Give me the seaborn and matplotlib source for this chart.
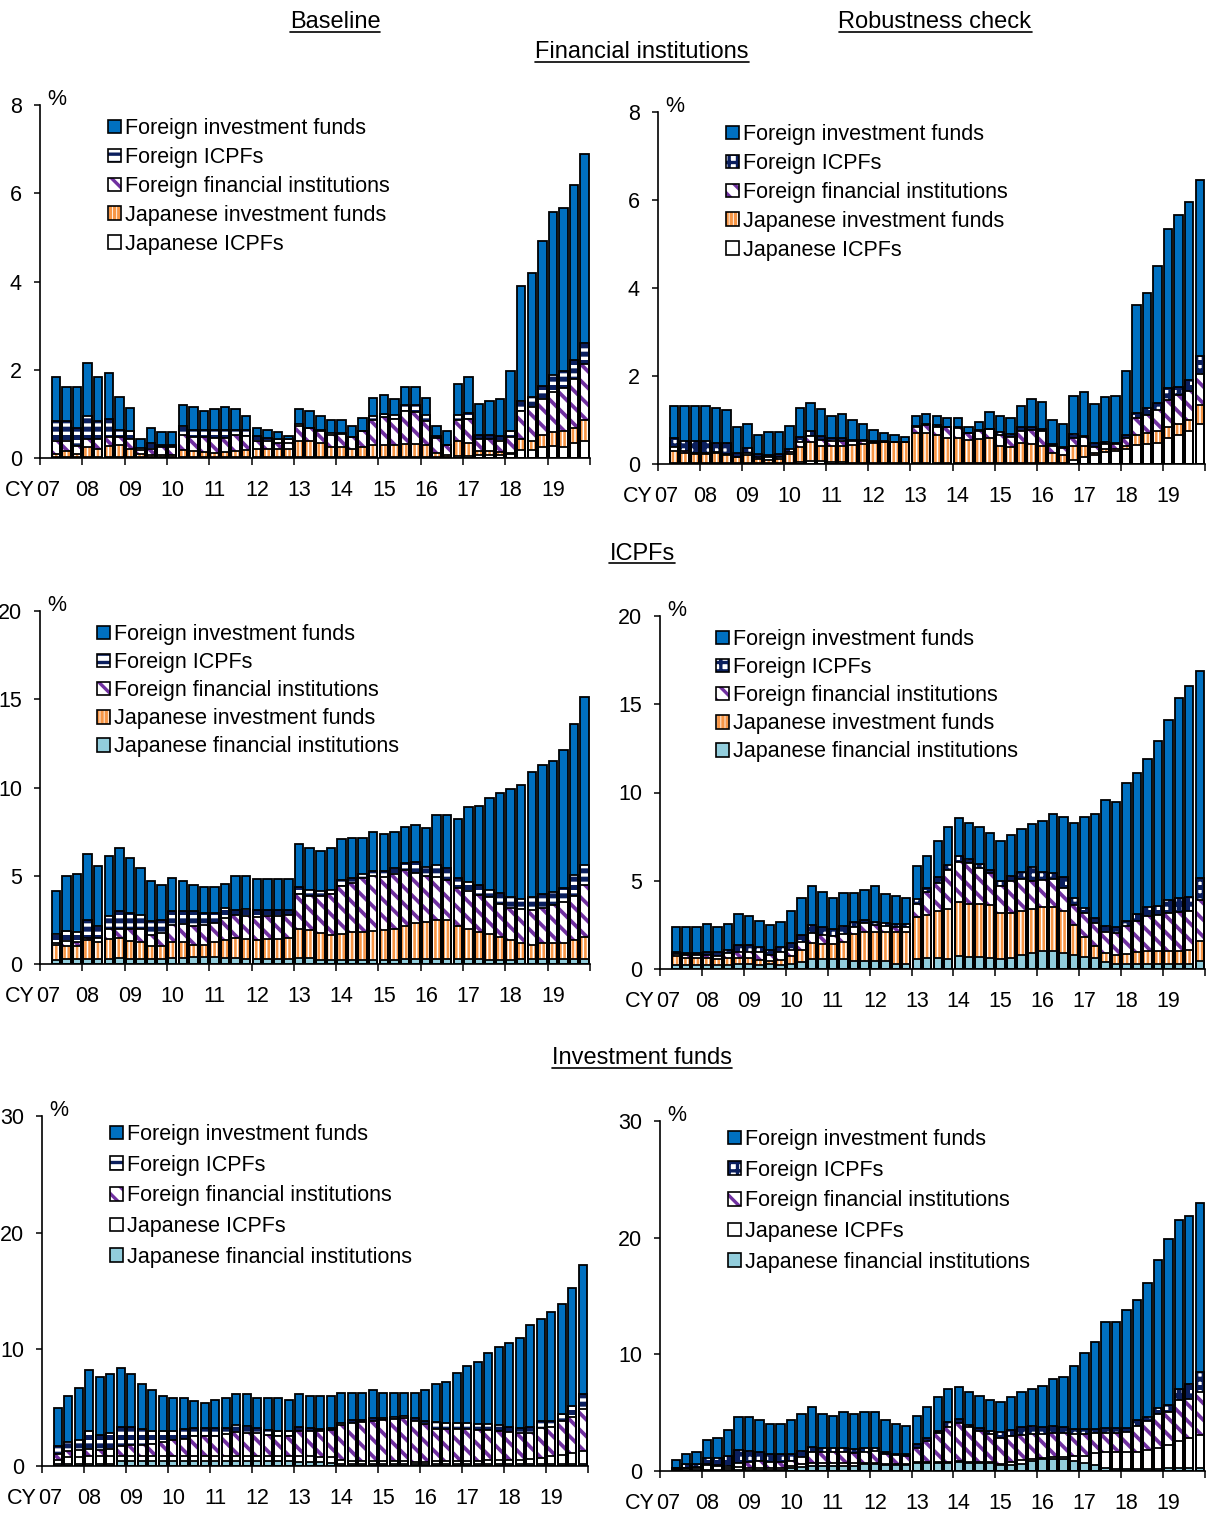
import numpy as np
import pandas as pd
import seaborn as sns
import matplotlib
matplotlib.use("Agg")
import matplotlib.pyplot as plt
from matplotlib.patches import Patch
from matplotlib.lines import Line2D
from matplotlib.legend_handler import HandlerTuple

# ---------------------------------------------------------------- data
# quarters 2007Q2 .. 2019Q4 ; values are cumulative stack tops (%)
quarters = pd.period_range("2007Q2", "2019Q4", freq="Q")
year_labels = ["07", "08", "09", "10", "11", "12", "13", "14", "15", "16", "17", "18", "19"]

# Financial institutions - Baseline (bottom -> top)
fi_base_jp_icpf = [.03,.03,.02,.03,.03,.03,.03,.03,.02,.02,.02,.02,.03,.03,.03,.03,.03,.03,.03,.03,.03,.03,.03,.03,.03,.03,.03,.03,.03,.03,.03,.03,.03,.03,.03,.03,.02,.02,.04,.05,.06,.06,.07,.08,.17,.19,.24,.27,.26,.34,.39]
fi_base_jp_if = [.10,.15,.09,.24,.21,.27,.30,.21,.08,.07,.06,.06,.17,.15,.14,.12,.14,.15,.17,.21,.21,.21,.21,.39,.38,.33,.24,.26,.21,.24,.29,.29,.29,.32,.32,.29,.11,.06,.38,.34,.15,.15,.14,.11,.44,.39,.53,.59,.62,.67,.87]
fi_base_for_fi = [.39,.38,.27,.44,.42,.47,.47,.42,.17,.21,.24,.24,.52,.47,.47,.45,.45,.52,.49,.39,.38,.34,.34,.72,.67,.61,.53,.55,.47,.62,.87,.94,.89,1.06,1.05,.83,.45,.29,.87,.89,.44,.42,.39,.47,1.06,1.15,1.33,1.5,1.59,1.78,2.14]
fi_base_for_icpf = [.83,.83,.68,.95,.83,.89,.64,.61,.23,.34,.30,.30,.72,.64,.64,.64,.64,.64,.64,.49,.45,.42,.42,.77,.68,.64,.57,.57,.47,.62,.95,1.0,.98,1.2,1.2,.97,.49,.30,.97,1.02,.53,.52,.49,.62,1.29,1.38,1.63,1.89,1.97,2.21,2.61]
fi_base_for_if = [1.84,1.61,1.61,2.16,1.84,1.93,1.38,1.14,.44,.68,.58,.58,1.2,1.15,1.06,1.1,1.15,1.1,.95,.68,.64,.59,.49,1.1,1.06,.95,.86,.86,.72,.91,1.36,1.42,1.33,1.61,1.61,1.36,.72,.62,1.67,1.84,1.23,1.29,1.33,1.98,3.9,4.2,4.92,5.58,5.67,6.18,6.88]

# Financial institutions - Robustness check
fi_rob_jp_icpf = [.03,.03,.02,.02,.02,.02,.02,.02,.02,.02,.02,.03,.05,.06,.06,.05,.05,.03,.03,.02,.02,.02,.02,.03,.03,.03,.03,.03,.03,.03,.03,.03,.03,.03,.03,.03,.03,.03,.1,.15,.2,.27,.3,.35,.44,.45,.48,.58,.67,.76,.92]
fi_rob_jp_if = [.30,.26,.23,.23,.24,.20,.15,.20,.12,.10,.12,.22,.39,.50,.40,.40,.40,.43,.45,.48,.49,.49,.49,.71,.70,.65,.60,.60,.55,.56,.60,.42,.38,.47,.45,.40,.25,.20,.40,.40,.25,.35,.34,.42,.65,.70,.74,.83,.90,1.0,1.33]
fi_rob_for_fi = [.39,.30,.25,.25,.28,.23,.17,.24,.17,.15,.17,.28,.51,.64,.55,.52,.53,.52,.52,.51,.51,.50,.50,.85,.88,.85,.83,.82,.71,.75,.79,.65,.62,.76,.77,.75,.40,.36,.60,.62,.38,.46,.46,.60,1.05,1.12,1.22,1.45,1.56,1.67,2.05]
fi_rob_for_icpf = [.58,.53,.53,.53,.48,.48,.26,.36,.23,.20,.23,.33,.61,.74,.64,.58,.58,.55,.55,.53,.52,.50,.50,.86,.90,.88,.85,.85,.71,.77,.79,.73,.68,.83,.83,.79,.45,.39,.68,.64,.47,.50,.48,.66,1.15,1.28,1.39,1.72,1.74,1.92,2.45]
fi_rob_for_if = [1.32,1.32,1.32,1.32,1.28,1.23,.85,.91,.67,.73,.73,.86,1.27,1.38,1.24,1.09,1.14,1.0,.91,.77,.71,.66,.62,1.09,1.14,1.09,1.05,1.05,.85,.95,1.18,1.09,1.05,1.32,1.47,1.42,1.0,.91,1.55,1.64,1.36,1.52,1.55,2.12,3.62,3.88,4.5,5.33,5.67,5.95,6.45]

# ICPFs - Baseline
icpf_base_jp_fi = [.25,.3,.3,.3,.3,.3,.35,.3,.3,.3,.3,.35,.35,.4,.4,.4,.35,.35,.3,.3,.3,.3,.3,.35,.35,.25,.25,.25,.25,.2,.2,.2,.2,.3,.3,.3,.3,.3,.3,.3,.3,.2,.2,.25,.3,.3,.3,.3,.3,.3,.3]
icpf_base_jp_if = [1.05,1.04,1.03,1.36,1.25,1.42,1.45,1.32,1.25,1.0,1.0,1.23,1.23,1.05,1.05,1.25,1.35,1.45,1.4,1.38,1.42,1.42,1.45,2.0,1.9,1.75,1.65,1.7,1.8,1.8,1.85,1.9,2.0,2.15,2.3,2.4,2.5,2.5,2.15,2.0,1.8,1.7,1.55,1.35,1.2,1.1,1.2,1.2,1.2,1.35,1.55]
icpf_base_for_fi = [1.2,1.28,1.25,1.47,1.45,1.98,1.97,2.0,1.98,1.65,1.75,2.2,2.25,2.15,2.2,2.3,2.6,2.75,2.7,2.65,2.7,2.7,2.75,3.95,3.85,3.85,3.95,4.4,4.6,4.85,5.0,4.95,5.1,5.3,5.15,5.0,4.95,4.75,4.3,4.15,3.9,3.8,3.4,3.2,3.1,3.05,3.2,3.35,3.5,3.85,4.5]
icpf_base_for_icpf = [1.72,1.89,1.8,2.5,2.17,2.74,2.98,2.91,2.8,2.42,2.5,2.98,2.98,2.98,2.9,2.9,3.2,3.06,3.1,3.06,3.06,3.06,3.06,4.38,4.19,4.12,4.19,4.76,4.87,5.1,5.29,5.29,5.44,5.7,5.76,5.5,5.6,5.44,4.87,4.62,4.47,4.19,4.0,3.78,3.68,3.78,3.97,4.06,4.3,5.06,5.63]
icpf_base_for_if = [4.13,4.98,5.08,6.23,5.55,6.13,6.58,6.02,5.42,4.7,4.47,4.85,4.72,4.49,4.38,4.38,4.51,4.98,4.98,4.83,4.83,4.83,4.83,6.79,6.55,6.42,6.55,7.06,7.15,7.15,7.5,7.36,7.47,7.74,7.85,7.72,8.42,8.42,8.19,8.87,8.98,9.43,9.7,9.9,10.13,10.85,11.3,11.5,12.1,13.6,15.1]

# ICPFs - Robustness check
icpf_rob_jp_fi = [.2,.2,.2,.2,.2,.2,.3,.3,.2,.3,.2,.3,.4,.55,.55,.55,.55,.45,.45,.45,.45,.3,.3,.55,.65,.65,.55,.76,.7,.7,.65,.55,.65,.8,.9,1.0,1.0,.9,.8,.7,.6,.4,.3,.3,.3,.3,.3,.3,.3,.3,.45]
icpf_rob_jp_if = [.72,.65,.62,.62,.55,.65,.6,.6,.5,.45,.5,.75,1.05,1.45,1.4,1.4,1.55,2.0,2.1,2.1,2.1,2.1,2.1,2.95,3.05,3.3,3.4,3.78,3.7,3.7,3.6,3.2,3.2,3.3,3.4,3.5,3.5,3.3,2.5,1.8,1.3,.9,.8,.85,.95,1.0,1.0,1.0,1.0,1.1,1.6]
icpf_rob_for_fi = [.83,.8,.8,.82,.75,.9,.98,.98,.95,.82,.95,1.1,1.55,2.05,1.95,1.85,2.0,2.4,2.6,2.5,2.45,2.4,2.4,3.7,4.35,4.9,5.6,6.08,6.0,5.7,5.45,4.72,5.0,5.1,5.0,5.05,5.1,4.6,3.65,3.15,2.6,2.1,2.05,2.45,2.7,3.0,3.05,3.2,3.25,3.3,3.9]
icpf_rob_for_icpf = [.98,.89,.89,.98,.94,1.1,1.36,1.36,1.23,1.1,1.23,1.47,1.93,2.49,2.36,2.27,2.42,2.68,2.8,2.68,2.6,2.55,2.55,3.97,4.57,5.19,5.89,6.4,6.25,5.95,5.6,5.0,5.29,5.51,5.76,5.51,5.44,5.19,4.0,3.44,2.87,2.46,2.36,2.74,3.12,3.49,3.55,3.93,4.0,4.06,5.14]
icpf_rob_for_if = [2.4,2.4,2.4,2.55,2.4,2.55,3.12,3.0,2.74,2.51,2.67,3.31,4.03,4.7,4.37,4.03,4.29,4.29,4.5,4.73,4.25,4.14,4.03,5.86,6.43,7.28,8.07,8.53,8.3,8.07,7.71,7.28,7.6,7.94,8.19,8.41,8.77,8.64,8.3,8.64,8.77,9.58,9.45,10.53,11.1,11.89,12.91,14.08,15.35,16.03,16.86]

# Investment funds - Baseline
if_base_jp_fi = [.15,.15,.15,.15,.15,.15,.45,.45,.4,.4,.4,.45,.45,.45,.45,.45,.45,.45,.45,.45,.45,.45,.45,.35,.35,.35,.3,.2,.15,.15,.15,.15,.15,.15,.15,.15,.2,.2,.2,.2,.15,.15,.15,.15,.15,.15,.15,.15,.15,.15,.15]
if_base_jp_icpf = [.5,.77,.8,.85,.85,.9,.9,.9,.9,.9,.9,.9,.9,.9,.9,.9,.9,.9,.9,.9,.9,.9,.9,.85,.85,.8,.8,.5,.45,.45,.4,.4,.4,.4,.35,.35,.4,.4,.4,.45,.45,.5,.5,.55,.55,.6,.7,.85,.95,1.1,1.3]
if_base_for_fi = [1.06,1.29,1.35,1.43,1.4,1.5,1.7,1.8,1.8,1.9,2.1,2.2,2.35,2.55,2.6,2.6,2.75,2.9,2.85,2.8,2.7,2.6,2.6,3.0,3.0,3.0,3.05,3.55,3.7,3.8,3.9,3.95,4.05,4.1,3.9,3.6,3.2,3.2,3.2,3.2,3.1,3.05,3.0,2.9,2.8,2.8,3.3,3.35,3.9,4.2,4.85]
if_base_for_icpf = [1.72,2.09,2.2,3.0,2.66,2.86,3.34,3.34,3.14,3.0,3.0,3.0,3.14,3.23,3.23,3.29,3.29,3.51,3.43,3.23,3.06,3.0,3.0,3.34,3.23,3.14,3.23,3.71,3.91,3.91,4.09,4.09,4.2,4.29,4.09,3.86,3.8,3.71,3.71,3.71,3.63,3.57,3.51,3.34,3.29,3.34,3.86,3.86,4.43,5.14,6.14]
if_base_for_if = [4.93,5.99,6.7,8.22,7.59,7.85,8.42,7.85,6.99,6.48,5.99,5.79,5.79,5.56,5.42,5.62,5.79,6.13,6.13,5.79,5.79,5.79,5.62,6.13,5.99,5.99,5.99,6.3,6.3,6.3,6.48,6.3,6.3,6.3,6.3,6.48,6.99,7.22,7.94,8.6,8.94,9.66,10.2,10.52,11.0,12.09,12.6,13.18,13.87,15.24,17.19]

# Investment funds - Robustness check
if_rob_jp_fi = [.05,.05,.05,.05,.05,.05,.05,.05,.05,.05,.1,.25,.35,.45,.45,.45,.45,.45,.6,.6,.5,.5,.5,.65,.65,.65,.65,.75,.7,.65,.65,.5,.5,.6,.85,1.0,1.05,1.05,.9,.7,.55,.25,.2,.2,.2,.2,.2,.3,.3,.3,.3]
if_rob_jp_icpf = [.2,.25,.3,.5,.45,.25,.35,.3,.3,.3,.3,.4,.6,.7,.65,.65,.65,.65,.7,.7,.6,.6,.6,.75,.75,.75,.75,.85,.8,.75,.75,.6,.75,.95,1.0,1.15,1.2,1.2,1.3,1.3,1.55,1.6,1.65,1.65,1.65,1.8,2.0,2.2,2.55,2.8,3.1]
if_rob_for_fi = [.25,.3,.35,.6,.5,.4,.7,.8,.9,.8,.8,.9,1.2,1.65,1.6,1.6,1.6,1.55,1.65,1.75,1.45,1.4,1.3,2.0,2.6,3.3,3.8,4.1,3.8,3.4,3.15,2.8,3.0,3.1,3.2,3.2,3.25,3.25,3.2,3.2,3.25,3.3,3.3,3.35,3.9,4.3,4.9,5.1,6.1,6.2,6.8]
if_rob_for_icpf = [.3,.6,.6,1.1,1.1,1.28,1.79,1.7,1.64,1.5,1.5,1.5,1.7,2.09,1.94,1.94,1.94,1.85,1.94,1.94,1.64,1.5,1.5,2.3,2.84,3.43,4.18,4.48,3.97,3.67,3.43,3.37,3.49,3.73,3.88,3.79,3.88,3.73,3.58,3.58,3.58,3.67,3.67,3.67,4.33,4.63,5.37,5.67,7.07,7.46,8.45]
if_rob_for_if = [.95,1.44,1.64,2.67,2.87,3.53,4.62,4.62,4.39,4.02,4.02,4.39,4.88,5.46,4.88,4.74,5.08,4.88,5.08,5.08,4.36,4.02,3.82,4.74,5.46,6.32,7.03,7.18,6.8,6.46,6.12,5.94,6.32,6.8,7.03,7.32,7.9,8.04,9.04,10.13,11.05,12.78,12.78,13.78,14.7,16.08,18.06,19.87,21.53,21.88,22.97]

# ---------------------------------------------------------------- style
sns.set_theme(style="white")
plt.rcParams["font.family"] = ["Liberation Sans", "DejaVu Sans"]
plt.rcParams["text.color"] = "black"
plt.rcParams["axes.labelcolor"] = "black"
plt.rcParams["xtick.color"] = "black"
plt.rcParams["ytick.color"] = "black"
plt.rcParams["hatch.linewidth"] = 2.4

BLUE = "#0070C0"
NAVY = "#0B1F5E"
PURPLE = "#7030A0"
ORANGE = "#F79646"
LIGHTBLUE = "#92CDDC"

FS = 15.5
W, H = 1207, 1513

def styles(right):
    return {
        "Foreign investment funds": dict(face=BLUE, hatch=None, hcolor=BLUE, hlw=1.0),
        "Foreign ICPFs": dict(face="white", hatch=("++" if right else "--"), hcolor=NAVY, hlw=3.6),
        "Foreign financial institutions": dict(face="white", hatch="\\\\", hcolor=PURPLE, hlw=2.7),
        "Japanese investment funds": dict(face="white", hatch="||||", hcolor=ORANGE, hlw=1.9),
        "Japanese ICPFs": dict(face="white", hatch=None, hcolor="white", hlw=1.0),
        "Japanese financial institutions": dict(face=LIGHTBLUE, hatch=None, hcolor=LIGHTBLUE, hlw=1.0),
    }

qpos = np.array([(p.year - 2007) * 4 + (p.quarter - 1) for p in quarters], dtype=float)

fig = plt.figure(figsize=(W / 100, H / 100), dpi=100)


def draw_layer_fill(ax, tops, st):
    df = pd.DataFrame({"x": qpos, "y": tops})
    n0 = len(ax.patches)
    with plt.rc_context({"hatch.linewidth": st["hlw"]}):
        sns.barplot(data=df, x="x", y="y", native_scale=True, width=0.8, errorbar=None,
                    ax=ax, color=st["face"], saturation=1, facecolor=st["face"],
                    edgecolor=st["hcolor"], linewidth=0, hatch=st["hatch"])
    for p in ax.patches[n0:]:
        if hasattr(p, "set_hatch_linewidth"):
            p.set_hatch_linewidth(st["hlw"])


def draw_layer_outline(ax, tops):
    df = pd.DataFrame({"x": qpos, "y": tops})
    sns.barplot(data=df, x="x", y="y", native_scale=True, width=0.8, errorbar=None,
                ax=ax, color="black", saturation=1, facecolor="none",
                edgecolor="black", linewidth=1.3)


def panel(rect_px, layers, ymax, yticks, leg_xy, leg_spacing, right):
    l, t, r, b = rect_px
    ax = fig.add_axes([l / W, 1 - b / H, (r - l) / W, (b - t) / H])
    st = styles(right)
    for name, tops in reversed(layers):
        draw_layer_fill(ax, tops, st[name])
    for name, tops in reversed(layers):
        draw_layer_outline(ax, tops)

    ax.set_xlabel("")
    ax.set_ylabel("")
    ax.set_xlim(-0.5, 51.5)
    ax.set_ylim(0, ymax)
    ax.set_yticks(yticks)
    ax.set_yticklabels([str(v) for v in yticks])
    ax.set_xticks(np.arange(-0.5, 52, 4))
    ax.set_xticklabels([])
    lab_pos = np.arange(0, 49, 4).astype(float)
    lab_pos[0] = 0.3
    ax.set_xticks(lab_pos, minor=True)
    ax.set_xticklabels(year_labels, minor=True)
    ax.tick_params(axis="x", which="major", bottom=True, length=5, width=1.1,
                   direction="out", color="black")
    ax.tick_params(axis="x", which="minor", bottom=True, length=0, pad=15.5, labelsize=FS)
    ax.tick_params(axis="y", which="major", left=True, length=4, width=1.1,
                   direction="out", pad=9, labelsize=FS, color="black")
    sns.despine(ax=ax)
    for s in ("left", "bottom"):
        ax.spines[s].set_color("black")
        ax.spines[s].set_linewidth(1.2)
    ax.grid(False)
    ax.set_facecolor("white")

    ax.annotate("%", xy=(0, 1), xycoords="axes fraction", xytext=(5, 0),
                textcoords="offset points", ha="left", va="baseline", fontsize=FS)
    ax.annotate("CY", xy=(0, 0), xycoords="axes fraction", xytext=(-3.6, -15.5),
                textcoords="offset points", ha="right", va="top", fontsize=FS)

    handles, labels = [], []
    for name, _ in reversed(layers):
        s = st[name]
        fill = Patch(facecolor=s["face"], edgecolor=s["hcolor"], hatch=s["hatch"], linewidth=0)
        if hasattr(fill, "set_hatch_linewidth"):
            fill.set_hatch_linewidth(s["hlw"])
        outline = Patch(facecolor="none", edgecolor="black", linewidth=1.2)
        handles.append((fill, outline))
        labels.append(name)
    ax.legend(handles, labels, handler_map={tuple: HandlerTuple(ndivide=1)},
              loc="upper left", bbox_to_anchor=(leg_xy[0] / W, 1 - leg_xy[1] / H),
              bbox_transform=fig.transFigure, frameon=False, fontsize=FS,
              handlelength=0.6, handleheight=0.6, handletextpad=0.2,
              labelspacing=leg_spacing, borderpad=0, borderaxespad=0)
    return ax


# Financial institutions
panel((40, 105, 590, 458),
      [("Japanese ICPFs", fi_base_jp_icpf), ("Japanese investment funds", fi_base_jp_if),
       ("Foreign financial institutions", fi_base_for_fi), ("Foreign ICPFs", fi_base_for_icpf),
       ("Foreign investment funds", fi_base_for_if)],
      8, [0, 2, 4, 6, 8], (108, 118), 0.37, False)
panel((658, 112, 1205, 464),
      [("Japanese ICPFs", fi_rob_jp_icpf), ("Japanese investment funds", fi_rob_jp_if),
       ("Foreign financial institutions", fi_rob_for_fi), ("Foreign ICPFs", fi_rob_for_icpf),
       ("Foreign investment funds", fi_rob_for_if)],
      8, [0, 2, 4, 6, 8], (726, 124), 0.37, True)

# ICPFs
panel((40, 611, 590, 964),
      [("Japanese financial institutions", icpf_base_jp_fi), ("Japanese investment funds", icpf_base_jp_if),
       ("Foreign financial institutions", icpf_base_for_fi), ("Foreign ICPFs", icpf_base_for_icpf),
       ("Foreign investment funds", icpf_base_for_if)],
      20, [0, 5, 10, 15, 20], (97, 624), 0.33, False)
panel((660, 616, 1205, 969),
      [("Japanese financial institutions", icpf_rob_jp_fi), ("Japanese investment funds", icpf_rob_jp_if),
       ("Foreign financial institutions", icpf_rob_for_fi), ("Foreign ICPFs", icpf_rob_for_icpf),
       ("Foreign investment funds", icpf_rob_for_if)],
      20, [0, 5, 10, 15, 20], (716, 629), 0.33, True)

# Investment funds
panel((42, 1116, 588, 1466),
      [("Japanese financial institutions", if_base_jp_fi), ("Japanese ICPFs", if_base_jp_icpf),
       ("Foreign financial institutions", if_base_for_fi), ("Foreign ICPFs", if_base_for_icpf),
       ("Foreign investment funds", if_base_for_if)],
      30, [0, 10, 20, 30], (110, 1124), 0.45, False)
panel((660, 1121, 1205, 1471),
      [("Japanese financial institutions", if_rob_jp_fi), ("Japanese ICPFs", if_rob_jp_icpf),
       ("Foreign financial institutions", if_rob_for_fi), ("Foreign ICPFs", if_rob_for_icpf),
       ("Foreign investment funds", if_rob_for_if)],
      30, [0, 10, 20, 30], (728, 1129), 0.45, True)

# ---------------------------------------------------------------- titles
TFS = 17
titles = []
for x_px, base_px, ul_px, txt in [(335, 28.5, 32, "Baseline"),
                                  (935, 28.5, 32, "Robustness check"),
                                  (642, 58.5, 62, "Financial institutions"),
                                  (642, 559.5, 563, "ICPFs"),
                                  (642, 1064.5, 1068, "Investment funds")]:
    t = fig.text(x_px / W, 1 - base_px / H, txt, ha="center", va="baseline", fontsize=TFS)
    titles.append((t, ul_px))

fig.canvas.draw()
renderer = fig.canvas.get_renderer()
for t, ul in titles:
    bb = t.get_window_extent(renderer)
    y = 1 - ul / H
    fig.add_artist(Line2D([bb.x0 / W, bb.x1 / W], [y, y], transform=fig.transFigure,
                          color="black", lw=1.2))

fig.savefig("out.png", dpi=100)
